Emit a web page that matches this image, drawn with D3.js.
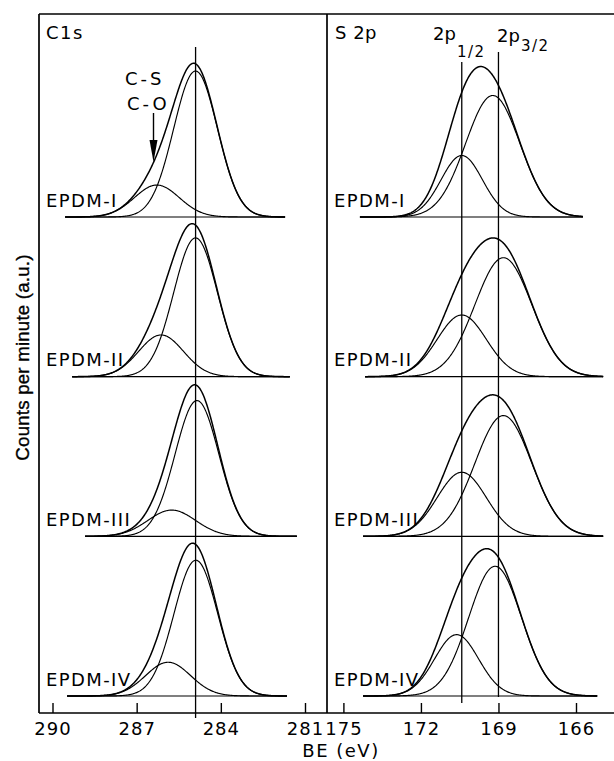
<!DOCTYPE html>
<html><head><meta charset="utf-8">
<script src="https://cdn.jsdelivr.net/npm/d3@7"></script>
<style>
html,body{margin:0;padding:0;background:#fff;}
svg{display:block;}
</style></head><body>
<svg id="chart" width="614" height="761"></svg>
<script>
// ---------------- data ----------------
const samples = ["EPDM-I", "EPDM-II", "EPDM-III", "EPDM-IV"];
const c1sTicks = [290, 287, 284, 281];
const s2pTicks = [175, 172, 169, 166];

// C 1s: main hydrocarbon peak and C-S / C-O shoulder (centre eV, height a.u., sigma eV)
const c1sMainCenter     = [284.90, 284.90, 284.85, 284.89];
const c1sMainHeight     = [97.3, 92.5, 90.5, 90.5];
const c1sMainWidth      = [0.78, 0.78, 0.78, 0.78];
const c1sShoulderCenter = [286.28, 286.13, 285.75, 285.88];
const c1sShoulderHeight = [21.3, 27.8, 17.5, 22.5];
const c1sShoulderWidth  = [0.80, 0.80, 0.85, 0.80];
const c1sRange = [[289.55, 281.71], [289.30, 281.54], [288.84, 281.29], [289.48, 281.64]];

// S 2p doublet
const s2p32Center = [169.22, 168.81, 168.81, 169.13];
const s2p32Height = [81.0, 79.3, 80.5, 86.5];
const s2p32Width  = [1.05, 1.10, 1.10, 1.02];
const s2p12Center = [170.42, 170.42, 170.42, 170.62];
const s2p12Height = [41.0, 41.1, 42.7, 40.9];
const s2p12Width  = [0.80, 0.95, 0.95, 0.85];
const s2pRange = [[174.36, 165.73], [174.16, 164.95], [174.24, 164.95], [174.24, 165.18]];

const c1sRefLine = 284.9;
const s2pRefLines = [170.42, 169.0];
const shoulderArrowBE = 286.4;

// ---------------- layout ----------------
const FONT = "'DejaVu Sans', sans-serif";
const svg = d3.select("#chart");
const frame = {left: 39, top: 14, right: 614, bottom: 713, mid: 327};

const xC = d3.scaleLinear().domain([290, 281]).range([52.5, 305]);
const xS = d3.scaleLinear().domain([175, 166]).range([343.4, 576]);
const row = d3.scalePoint().domain(samples).range([217, 696]);
const yH = d3.scaleLinear().domain([0, 100]).range([0, 150]);

const gauss = (e, c, h, s) => h * Math.exp(-((e - c) * (e - c)) / (2 * s * s));

function curvePoints(range, comps) {
  const pts = [];
  const lo = Math.min(range[0], range[1]), hi = Math.max(range[0], range[1]);
  const n = 400;
  for (let i = 0; i <= n; i++) {
    const e = lo + (hi - lo) * i / n;
    pts.push({e, v: comps(e)});
  }
  return pts;
}

function drawRow(g, x, sample, range, compList) {
  const base = row(sample);
  const line = d3.line().x(d => x(d.e)).y(d => base - yH(d.v));
  g.append("line")
    .attr("x1", x(range[0])).attr("x2", x(range[1]))
    .attr("y1", base).attr("y2", base)
    .attr("stroke", "#000").attr("stroke-width", 1.2);
  compList.forEach(c => {
    g.append("path").datum(curvePoints(range, e => gauss(e, c[0], c[1], c[2])))
      .attr("d", line).attr("fill", "none").attr("stroke", "#000").attr("stroke-width", 1.15);
  });
  g.append("path").datum(curvePoints(range, e => compList.reduce((a, c) => a + gauss(e, c[0], c[1], c[2]), 0)))
    .attr("d", line).attr("fill", "none").attr("stroke", "#000").attr("stroke-width", 1.5);
}

function txt(x, y, size, spacing, s) {
  return svg.append("text").attr("x", x).attr("y", y)
    .style("font-family", FONT).style("font-size", size + "px")
    .style("letter-spacing", spacing + "px").attr("fill", "#000").text(s);
}

const gC = svg.append("g");
const gS = svg.append("g");
samples.forEach((s, i) => {
  drawRow(gC, xC, s, c1sRange[i], [
    [c1sMainCenter[i], c1sMainHeight[i], c1sMainWidth[i]],
    [c1sShoulderCenter[i], c1sShoulderHeight[i], c1sShoulderWidth[i]]
  ]);
  drawRow(gS, xS, s, s2pRange[i], [
    [s2p32Center[i], s2p32Height[i], s2p32Width[i]],
    [s2p12Center[i], s2p12Height[i], s2p12Width[i]]
  ]);
  const lblY = row(s) - 10.5;
  txt(46, lblY, 18, 1.4, s);
  txt(334, lblY, 18, 1.4, s);
});

// reference lines
svg.append("line").attr("x1", xC(c1sRefLine)).attr("x2", xC(c1sRefLine))
  .attr("y1", 47).attr("y2", 718).attr("stroke", "#000").attr("stroke-width", 1.3);
svg.append("line").attr("x1", xS(s2pRefLines[0])).attr("x2", xS(s2pRefLines[0]))
  .attr("y1", 62).attr("y2", 703).attr("stroke", "#000").attr("stroke-width", 1.3);
svg.append("line").attr("x1", xS(s2pRefLines[1])).attr("x2", xS(s2pRefLines[1]))
  .attr("y1", 52).attr("y2", 697).attr("stroke", "#000").attr("stroke-width", 1.3);

// frame
const fr = svg.append("g").attr("stroke", "#000").attr("stroke-width", 1.7);
fr.append("line").attr("x1", frame.left).attr("x2", frame.right).attr("y1", frame.top).attr("y2", frame.top);
fr.append("line").attr("x1", frame.left).attr("x2", frame.left).attr("y1", frame.top).attr("y2", frame.bottom);
fr.append("line").attr("x1", frame.left).attr("x2", frame.right).attr("y1", frame.bottom).attr("y2", frame.bottom);
fr.append("line").attr("x1", frame.mid).attr("x2", frame.mid).attr("y1", frame.top).attr("y2", frame.bottom);

// axes
function addAxis(x, ticks) {
  const ax = svg.append("g").attr("transform", `translate(0,${frame.bottom})`)
    .call(d3.axisBottom(x).tickValues(ticks).tickFormat(d3.format("d"))
      .tickSizeInner(-10).tickSizeOuter(0).tickPadding(9));
  ax.select(".domain").remove();
  ax.selectAll(".tick line").attr("stroke", "#000").attr("stroke-width", 1.4);
  ax.selectAll(".tick text").style("font-family", FONT).style("font-size", "18px")
    .style("letter-spacing", "1px").attr("fill", "#000");
}
addAxis(xC, c1sTicks);
addAxis(xS, s2pTicks);

// panel titles
txt(46, 39.3, 18, 1.5, "C1s");
txt(335, 39.3, 18, 0.5, "S 2p");

function doublet(x, y, sub, subX, subY) {
  txt(x, y, 18, 0, "2p");
  txt(subX, subY, 15, 1.5, sub);
}
doublet(433, 40, "1/2", 457, 57);
doublet(497, 41.5, "3/2", 521, 50.5);

// shoulder annotation
const ax0 = xC(shoulderArrowBE);
txt(125, 85, 18, 3, "C-S");
txt(127, 110, 18, 3, "C-O");
svg.append("line").attr("x1", ax0).attr("x2", ax0).attr("y1", 113).attr("y2", 145)
  .attr("stroke", "#000").attr("stroke-width", 1.4);
svg.append("path").attr("d", `M${ax0 - 4},140 L${ax0 + 4},140 L${ax0},162 Z`).attr("fill", "#000");

// axis titles
txt(341, 756.5, 18, 1.5, "BE (eV)").attr("text-anchor", "middle");
svg.append("text").attr("transform", "translate(28.5,357.5) rotate(-90)")
  .style("font-family", "'Liberation Sans', Arial, sans-serif").style("font-size", "18.7px")
  .style("letter-spacing", "0.2px").attr("stroke", "#000").attr("stroke-width", 0.35)
  .attr("text-anchor", "middle").attr("fill", "#000").text("Counts per minute (a.u.)");
</script>
</body></html>
